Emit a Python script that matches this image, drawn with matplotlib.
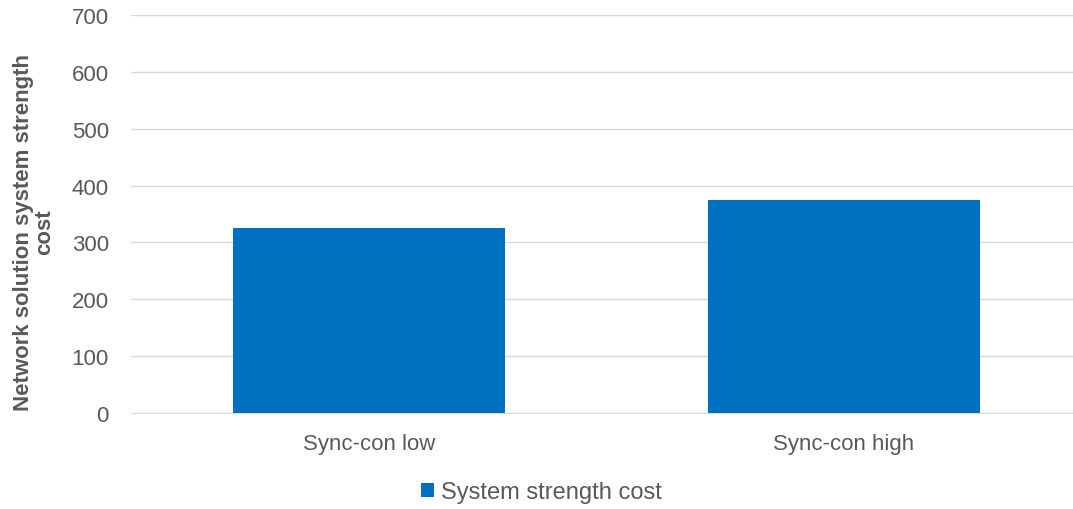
import matplotlib.pyplot as plt

categories = ['Sync-con low', 'Sync-con high']
costs = [325, 375]
series_name = 'System strength cost'

plt.rcParams['font.family'] = ['Liberation Sans', 'DejaVu Sans']

fig = plt.figure(figsize=(10.73, 5.10), dpi=100)
ax = fig.add_axes([131 / 1073, 0.188, 942 / 1073, 0.781])

x = range(len(categories))
ax.bar(x, costs, width=0.573, color='#0070C0', label=series_name, zorder=3)

ax.set_xlim(-0.501, 1.482)
ax.set_ylim(0, 700)
ax.set_yticks(range(0, 701, 100))
ax.set_xticks(list(x))
ax.set_xticklabels(categories)
ax.grid(axis='y', color='#D9D9D9', linewidth=1, zorder=0)
ax.tick_params(axis='both', length=0, labelsize=16, labelcolor='#595959')
ax.tick_params(axis='x', pad=14)
ax.tick_params(axis='y', pad=16)
for s in ['top', 'right', 'left']:
    ax.spines[s].set_visible(False)
ax.spines['bottom'].set_color('#D9D9D9')

ax.set_ylabel('Network solution system strength\ncost', fontsize=16, fontweight='bold',
              color='#595959', linespacing=1.0)
ax.yaxis.set_label_coords(-0.081, 0.457)

fig.legend(loc='lower center', bbox_to_anchor=(0.505, -0.03), frameon=False, fontsize=17,
           labelcolor='#595959', handlelength=0.55, handleheight=0.55, handletextpad=0.3)

fig.savefig('out.png', dpi=100)
